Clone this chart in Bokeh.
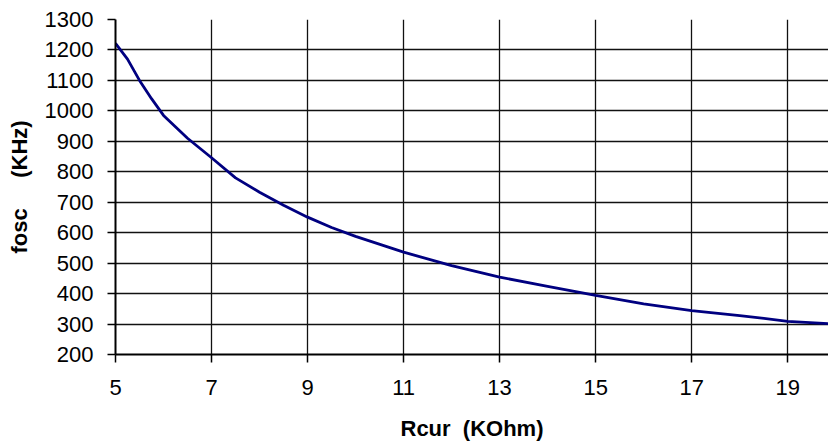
from bokeh.plotting import figure
from bokeh.models import Range1d, FixedTicker
from bokeh.embed import file_html
from bokeh.resources import INLINE

rcur = [5, 5.25, 5.5, 5.75, 6, 6.5, 7, 7.5, 8, 8.5, 9, 9.5, 10, 11, 12, 13, 14, 15, 16, 17, 18, 19, 19.85]
fosc = [1222, 1170, 1100, 1040, 985, 910, 846, 780, 733, 690, 651, 617, 588, 536, 492, 454, 424, 394, 366, 344, 328, 309, 301]
x_ticks = [5, 7, 9, 11, 13, 15, 17, 19]
y_ticks = list(range(200, 1301, 100))

p = figure(width=828, height=448, output_backend="svg", toolbar_location=None,
           x_range=Range1d(5, 19.85), y_range=Range1d(200, 1300),
           min_border_left=115, min_border_right=0, min_border_top=19, min_border_bottom=94)
p.outline_line_color = None
p.background_fill_color = "white"
p.border_fill_color = "white"

p.line(rcur, fosc, line_color="#000080", line_width=2.8)

for ax, ticks in ((p.xaxis[0], x_ticks), (p.yaxis[0], y_ticks)):
    ax.ticker = FixedTicker(ticks=ticks)
    ax.axis_line_color = "black"
    ax.axis_line_width = 2
    ax.major_tick_line_color = "black"
    ax.major_tick_line_width = 1.5
    ax.major_tick_out = 8
    ax.major_tick_in = 0
    ax.minor_tick_line_color = None
    ax.major_label_text_font = "Liberation Sans"
    ax.major_label_text_font_size = "22px"
    ax.major_label_text_color = "black"
    ax.axis_label_text_font = "Liberation Sans"
    ax.axis_label_text_font_size = "22px"
    ax.axis_label_text_font_style = "bold"
    ax.axis_label_text_color = "black"

p.xaxis.axis_label = "Rcur\u00a0\u00a0(KOhm)"
p.yaxis.axis_label = "fosc\u00a0\u00a0\u00a0\u00a0\u00a0(KHz)"
p.xaxis.major_label_standoff = 17
p.xaxis.axis_label_standoff = 18
p.yaxis.major_label_standoff = 14
p.yaxis.axis_label_standoff = 10

p.xgrid.ticker = FixedTicker(ticks=x_ticks)
p.ygrid.ticker = FixedTicker(ticks=y_ticks)
p.grid.grid_line_color = "#111111"
p.grid.grid_line_width = 1.3

open("out.html", "w").write(file_html(p, INLINE))
